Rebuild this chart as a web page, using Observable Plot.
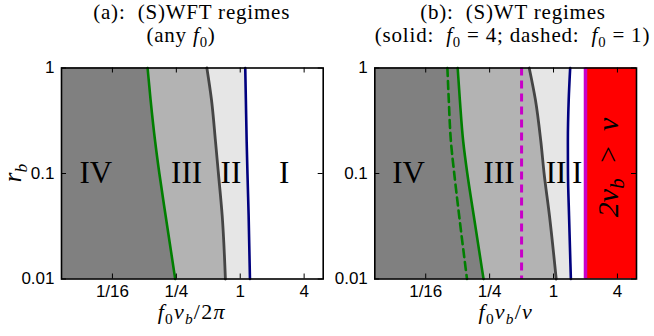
<!DOCTYPE html>
<html>
<head>
<meta charset="utf-8">
<script src="https://cdn.jsdelivr.net/npm/d3@7"></script>
<script src="https://cdn.jsdelivr.net/npm/@observablehq/plot@0.6"></script>
<style>
  body { margin: 0; background: #fff; }
  #chart { position: relative; width: 654px; height: 336px; overflow: hidden; }
  #chart > svg { position: absolute; top: 0; }
</style>
</head>
<body>
<div id="chart"></div>
<script>
// Sampled r_b levels at which each regime boundary is tabulated
const rbLevels = [1, 0.5, 0.2, 0.1, 0.04, 0.01];

// (a) (S)WFT boundaries in f0*nu_b/2pi (independent of f0)
const wftIVtoIII = [0.134, 0.143, 0.158, 0.173, 0.198, 0.244];
const wftIIItoII = [0.485, 0.536, 0.585, 0.623, 0.676, 0.725];
const wftIItoI   = [1.115, 1.13, 1.15, 1.17, 1.2, 1.235];

// (b) (S)WT boundaries in f0*nu_b/nu
const wtIVtoIIIf4 = [0.125, 0.131, 0.141, 0.154, 0.177, 0.219];
const wtIVtoIIIf1 = [0.100, 0.103, 0.108, 0.116, 0.129, 0.153];
const wtIIItoII   = [0.59, 0.675, 0.76, 0.815, 0.915, 1.06];
const wtIItoI     = [1.435, 1.39, 1.365, 1.368, 1.40, 1.457];
const limitF1 = 0.5;   // 2 nu_b = nu for f0 = 1
const limitF4 = 2;     // 2 nu_b = nu for f0 = 4

// Axes
const xDomain = [0.0207, 6.05];
const yDomain = [0.01, 1];
const xTicks = [1 / 16, 1 / 4, 1, 4];
const xTickLabels = ["1/16", "1/4", "1", "4"];
const yTicks = [0.01, 0.1, 1];
const yTickLabels = ["0.01", "0.1", "1"];

// Regime labels
const regionNames = ["IV", "III", "II", "I"];
const regionXa = [0.0436, 0.312, 0.817, 2.6];
const regionXb = [0.043, 0.307, 1.056, 1.67];
const regionY = 0.1;
const forbiddenLabel = { x: 3.26, y: 0.114, text: "2νb > ν" };

const colors = {
  IV: "#808080", III: "#b3b3b3", II: "#e6e6e6",
  green: "#007f00", gray: "#454545", blue: "#00007f", magenta: "#c800c8", red: "#ff0000"
};

const serif = "'Liberation Serif', 'Times New Roman', serif";
const sans = "'Liberation Sans', Arial, sans-serif";

const curve = (xs) => rbLevels.map((rb, i) => ({ rb, x: xs[i] }));

const W = 327, H = 336, MT = 67.5, MB = 57.5;
const innerH = H - MT - MB;

function frameAndAxes(innerW) {
  return [
    Plot.tickX(xTicks, { x: (d) => d, insetTop: innerH - 5, stroke: "#000", strokeWidth: 1 }),
    Plot.tickX(xTicks, { x: (d) => d, insetBottom: innerH - 5, stroke: "#000", strokeWidth: 1 }),
    Plot.tickY(yTicks, { y: (d) => d, insetRight: innerW - 5, stroke: "#000", strokeWidth: 1 }),
    Plot.tickY(yTicks, { y: (d) => d, insetLeft: innerW - 5, stroke: "#000", strokeWidth: 1 }),
    // tick labels
    Plot.text(xTicks, {
      x: (d) => d, text: (d, i) => xTickLabels[i], frameAnchor: "bottom",
      lineAnchor: "top", dy: 6, fontFamily: sans, fontSize: 17, fill: "#000"
    }),
    Plot.text(yTicks, {
      y: (d) => d, text: (d, i) => yTickLabels[i], frameAnchor: "left",
      textAnchor: "end", dx: -7, fontFamily: sans, fontSize: 17, fill: "#000"
    }),
    Plot.frame({ stroke: "#000", strokeWidth: 1.6 })
  ];
}

function basePlot(marginLeft, marginRight, marks) {
  return Plot.plot({
    width: W, height: H,
    marginTop: MT, marginBottom: MB, marginLeft, marginRight,
    x: { type: "log", domain: xDomain, axis: null },
    y: { type: "log", domain: yDomain, axis: null },
    style: { fontFamily: sans, fontSize: "17px", background: "transparent", overflow: "visible" },
    marks
  });
}

const fillTo = (xs, fill) =>
  Plot.areaX(curve(xs), { y: "rb", x1: xDomain[0], x2: "x", fill, curve: "monotone-y" });
const boundary = (xs, stroke, extra = {}) =>
  Plot.lineX(curve(xs), { x: "x", y: "rb", stroke, strokeWidth: 2.6, curve: "monotone-y", ...extra });
const regionText = (xs) =>
  Plot.text(regionNames, {
    x: (d, i) => xs[i], y: () => regionY, text: (d) => d,
    fontFamily: serif, fontSize: 31, fill: "#000"
  });

// Panel (a): (S)WFT
const mlA = 61, mrA = W - 322.7;
const plotA = basePlot(mlA, mrA, [
  fillTo(wftIItoI, colors.II),
  fillTo(wftIIItoII, colors.III),
  fillTo(wftIVtoIII, colors.IV),
  boundary(wftIVtoIII, colors.green),
  boundary(wftIIItoII, colors.gray, { strokeWidth: 2.8 }),
  boundary(wftIItoI, colors.blue),
  regionText(regionXa),
  ...frameAndAxes(W - mlA - mrA)
]);
plotA.style.left = "0px";

// Panel (b): (S)WT
const mlB = 374.3 - W, mrB = 654 - 636;
const plotB = basePlot(mlB, mrB, [
  fillTo(wtIItoI, colors.II),
  Plot.rect([limitF4], { x1: (d) => d, x2: () => xDomain[1], y1: () => yDomain[0], y2: () => yDomain[1], fill: colors.red }),
  fillTo(wtIIItoII, colors.III),
  fillTo(wtIVtoIIIf4, colors.IV),
  boundary(wtIVtoIIIf1, colors.green, { strokeDasharray: "8,5" }),
  boundary(wtIVtoIIIf4, colors.green),
  Plot.ruleX([limitF1], { stroke: colors.magenta, strokeWidth: 3, strokeDasharray: "8,5" }),
  boundary(wtIIItoII, colors.gray, { strokeWidth: 2.8 }),
  boundary(wtIItoI, colors.blue),
  Plot.ruleX([limitF4], { stroke: colors.magenta, strokeWidth: 3.5 }),
  regionText(regionXb),
  Plot.text([forbiddenLabel], {
    x: "x", y: "y", text: "text", rotate: -90, className: "forbidden",
    fontFamily: serif, fontSize: 30, fontStyle: "italic", fill: "#000"
  }),
  ...frameAndAxes(W - mlB - mrB)
]);
plotB.style.left = W + "px";

const chart = document.getElementById("chart");
chart.append(plotA, plotB);

// Build text with italic / subscript runs: each run is [text, italic, subscript]
function richText(sel, runs, size) {
  const shift = size * 0.22;
  let level = 0;
  for (const [t, italic, subscript] of runs) {
    const target = subscript ? 1 : 0;
    const ts = sel.append("tspan").text(t)
      .attr("font-size", subscript ? size * 0.7 : size)
      .attr("dy", (target - level) * shift);
    if (italic) ts.attr("font-style", "italic");
    level = target;
  }
}

// Subscript inside the rotated 2ν_b > ν label
const fb = d3.select(plotB).select(".forbidden text");
fb.text(null);
richText(fb, [["2ν", true, false], ["b", true, true], ["\u2009 > \u2009ν", true, false]], 30);

// Titles and axis labels
const overlay = d3.select(chart).append("svg")
  .attr("width", 654).attr("height", 336)
  .style("left", "0px").style("pointer-events", "none");

const titleSize = 21, labelSize = 22;
const texts = [
  { x: 191.7, y: 18.5, size: titleSize, spacing: 0.8, runs: [["(a):\u00a0 (S)WFT regimes"]] },
  { x: 181, y: 42, size: titleSize, spacing: 0.8, runs: [["(any "], ["f", true], ["0", false, true], [")"]] },
  { x: 513, y: 18.5, size: titleSize, spacing: 0.8, runs: [["(b):\u00a0 (S)WT regimes"]] },
  { x: 512.5, y: 42, size: titleSize, spacing: 0.8, runs: [["(solid:\u00a0 "], ["f", true], ["0", false, true], [" = 4; dashed:\u00a0 "], ["f", true], ["0", false, true], [" = 1)"]] },
  { x: 191.7, y: 319, size: labelSize, spacing: 1.2, runs: [["f", true], ["0", false, true], ["ν", true], ["b", true, true], ["/2"], ["π", true]] },
  { x: 505.8, y: 319, size: labelSize, spacing: 1.2, runs: [["f", true], ["0", false, true], ["ν", true], ["b", true, true], ["/"], ["ν", true]] }
];
for (const t of texts) {
  const el = overlay.append("text").attr("x", t.x).attr("y", t.y)
    .attr("text-anchor", "middle").style("font-family", serif).attr("fill", "#000");
  if (t.spacing) el.style("letter-spacing", t.spacing + "px");
  richText(el, t.runs, t.size);
}
const yl = overlay.append("text")
  .attr("transform", "translate(21,173) rotate(-90)")
  .attr("text-anchor", "middle").style("font-family", serif).attr("fill", "#000");
richText(yl, [["r", true], ["b", true, true]], 25);
</script>
</body>
</html>
